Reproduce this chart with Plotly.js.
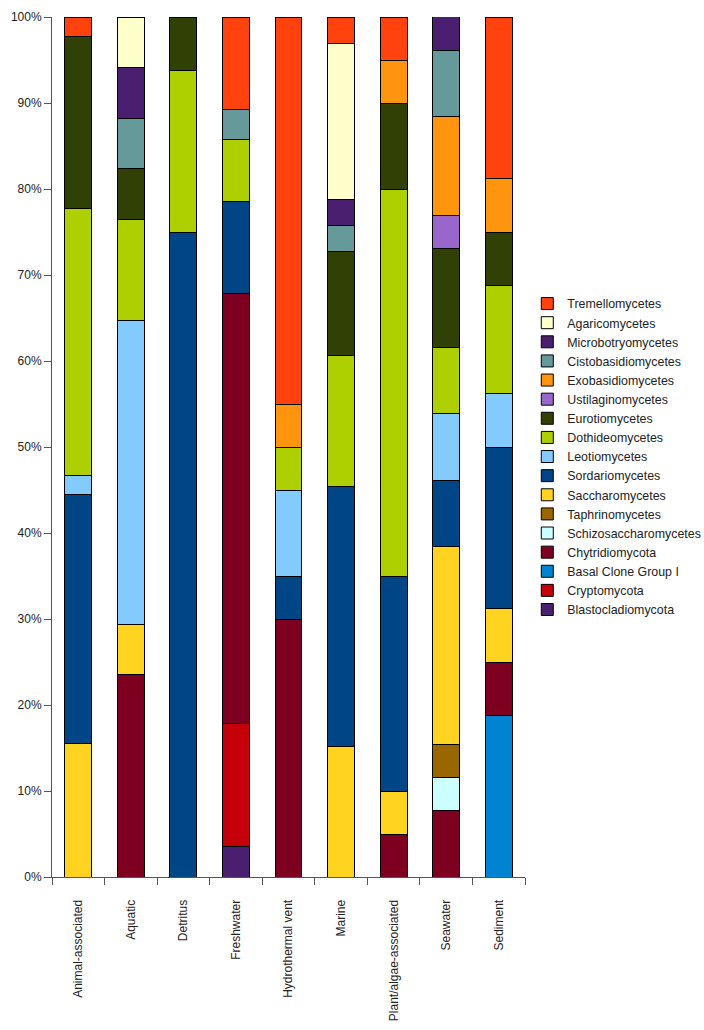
<!DOCTYPE html>
<html>
<head>
<meta charset="utf-8">
<script src="https://cdn.plot.ly/plotly-3.0.1.min.js"></script>
<style>
  html, body { margin: 0; padding: 0; background: #ffffff; }
  #chart { width: 704px; height: 1030px; }
</style>
</head>
<body>
<div id="chart"></div>
<script>
const categories = ['Animal-associated', 'Aquatic', 'Detritus', 'Freshwater', 'Hydrothermal vent', 'Marine', 'Plant/algae-associated', 'Seawater', 'Sediment'];

// Percentages per habitat (bottom of stack first)
const Blastocladiomycota     = [0, 0, 0, 3.57, 0, 0, 0, 0, 0];
const Cryptomycota           = [0, 0, 0, 14.29, 0, 0, 0, 0, 0];
const BasalCloneGroupI       = [0, 0, 0, 0, 0, 0, 0, 0, 18.75];
const Chytridiomycota        = [0, 23.53, 0, 50.0, 30.0, 0, 5.0, 7.69, 6.25];
const Schizosaccharomycetes  = [0, 0, 0, 0, 0, 0, 0, 3.85, 0];
const Taphrinomycetes        = [0, 0, 0, 0, 0, 0, 0, 3.85, 0];
const Saccharomycetes        = [15.56, 5.88, 0, 0, 0, 15.15, 5.0, 23.08, 6.25];
const Sordariomycetes        = [28.89, 0, 75.0, 10.71, 5.0, 30.30, 25.0, 7.69, 18.75];
const Leotiomycetes          = [2.22, 35.29, 0, 0, 10.0, 0, 0, 7.69, 6.25];
const Dothideomycetes        = [31.11, 11.76, 18.75, 7.14, 5.0, 15.15, 45.0, 7.69, 12.5];
const Eurotiomycetes         = [20.0, 5.88, 6.25, 0, 0, 12.12, 10.0, 11.54, 6.25];
const Ustilaginomycetes      = [0, 0, 0, 0, 0, 0, 0, 3.85, 0];
const Exobasidiomycetes      = [0, 0, 0, 0, 5.0, 0, 5.0, 11.54, 6.25];
const Cistobasidiomycetes    = [0, 5.88, 0, 3.57, 0, 3.03, 0, 7.69, 0];
const Microbotryomycetes     = [0, 5.88, 0, 0, 0, 3.03, 0, 3.85, 0];
const Agaricomycetes         = [0, 5.88, 0, 0, 0, 18.18, 0, 0, 0];
const Tremellomycetes        = [2.22, 0, 0, 10.71, 45.0, 3.03, 5.0, 0, 18.75];

const seriesNames = ['Blastocladiomycota', 'Cryptomycota', 'Basal Clone Group I', 'Chytridiomycota',
  'Schizosaccharomycetes', 'Taphrinomycetes', 'Saccharomycetes', 'Sordariomycetes', 'Leotiomycetes',
  'Dothideomycetes', 'Eurotiomycetes', 'Ustilaginomycetes', 'Exobasidiomycetes', 'Cistobasidiomycetes',
  'Microbotryomycetes', 'Agaricomycetes', 'Tremellomycetes'];
const seriesValues = [Blastocladiomycota, Cryptomycota, BasalCloneGroupI, Chytridiomycota,
  Schizosaccharomycetes, Taphrinomycetes, Saccharomycetes, Sordariomycetes, Leotiomycetes,
  Dothideomycetes, Eurotiomycetes, Ustilaginomycetes, Exobasidiomycetes, Cistobasidiomycetes,
  Microbotryomycetes, Agaricomycetes, Tremellomycetes];
const seriesColors = ['#4b1f6f', '#c5000b', '#0084d1', '#7e0021',
  '#ccffff', '#996600', '#ffd320', '#004586', '#83caff',
  '#aecf00', '#314004', '#9966cc', '#ff950e', '#669999',
  '#4b1f6f', '#ffffcc', '#ff420e'];

const FONT = 'Liberation Sans, Arial, Helvetica, sans-serif';

const traces = seriesNames.map((name, i) => ({
  type: 'bar',
  name: name,
  x: categories,
  y: seriesValues[i].map(v => (v === 0 ? null : v)),
  marker: { color: seriesColors[i], line: { color: '#000000', width: 1 } },
  hoverinfo: 'x+y+name'
}));

const layout = {
  width: 704,
  height: 1030,
  paper_bgcolor: '#ffffff',
  plot_bgcolor: '#ffffff',
  barmode: 'stack',
  bargap: 0.49,
  margin: { l: 52, r: 179, t: 17, b: 153 },
  font: { family: FONT, size: 12, color: '#222222' },
  showlegend: true,
  legend: {
    traceorder: 'reversed',
    xref: 'container', yref: 'container',
    x: 0.749, y: 0.5563,
    xanchor: 'left', yanchor: 'middle',
    font: { family: FONT, size: 12.4, color: '#222222' },
    bgcolor: 'rgba(0,0,0,0)',
    itemwidth: 30,
    tracegroupgap: 0
  },
  xaxis: {
    type: 'category',
    range: [-0.5, 8.5],
    tickson: 'boundaries',
    ticks: 'outside',
    ticklen: 7,
    tickcolor: '#555555',
    showline: true,
    linecolor: '#555555',
    linewidth: 1,
    showgrid: false,
    zeroline: false,
    tickangle: -90,
    ticklabelstandoff: 17,
    tickfont: { family: FONT, size: 12, color: '#222222' },
    fixedrange: true
  },
  yaxis: {
    range: [0, 100],
    dtick: 10,
    tick0: 0,
    ticksuffix: '%',
    ticks: 'outside',
    ticklen: 7,
    tickcolor: '#555555',
    showline: true,
    linecolor: '#555555',
    linewidth: 1,
    showgrid: false,
    zeroline: false,
    tickfont: { family: FONT, size: 12, color: '#222222' },
    fixedrange: true
  }
};

Plotly.newPlot('chart', traces, layout, { displayModeBar: false, staticPlot: true });
</script>
</body>
</html>
